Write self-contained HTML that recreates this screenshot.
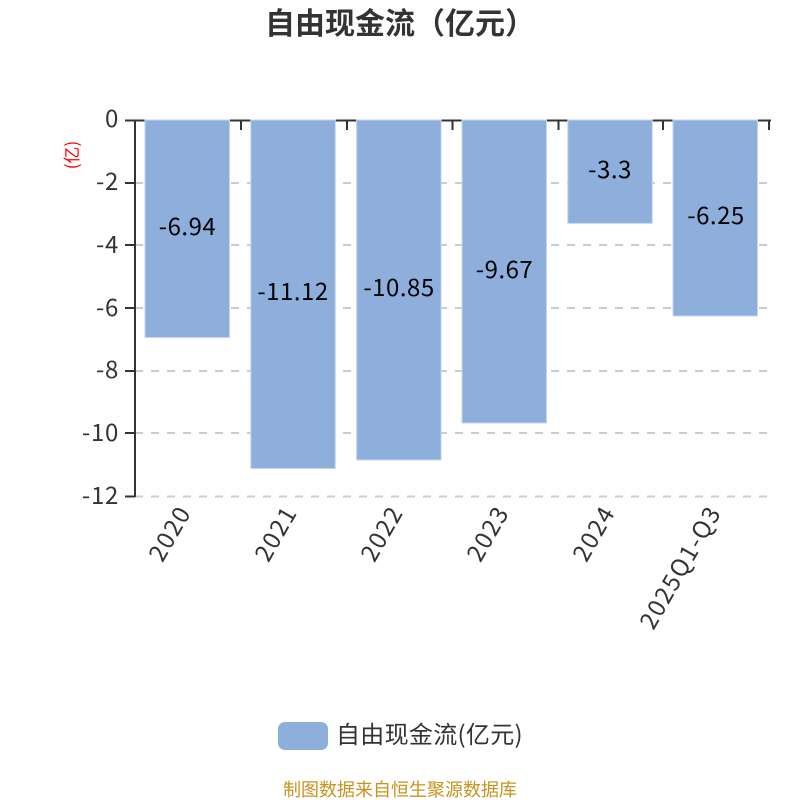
<!DOCTYPE html>
<html><head><meta charset="utf-8"><style>
html,body{margin:0;padding:0;background:#fff;width:800px;height:800px;overflow:hidden}
svg{display:block}
text{font-family:"Noto Sans CJK SC","Liberation Sans",sans-serif}
</style></head><body>
<svg width="800" height="800" viewBox="0 0 800 800" xmlns="http://www.w3.org/2000/svg">
<rect width="800" height="800" fill="#fff"/>
<text x="400" y="34" text-anchor="middle" font-size="30" font-weight="700" fill="#333">自由现金流（亿元）</text>
<g stroke="#ccc" stroke-width="2" stroke-dasharray="8 8">
<line x1="135" y1="183" x2="770" y2="183"/>
<line x1="135" y1="245" x2="770" y2="245"/>
<line x1="135" y1="308" x2="770" y2="308"/>
<line x1="135" y1="371" x2="770" y2="371"/>
<line x1="135" y1="433" x2="770" y2="433"/>
<line x1="135" y1="496.500" x2="770" y2="496.500"/>
</g>
<g stroke="#333" stroke-width="2" fill="none">
<line x1="125" y1="120.500" x2="771" y2="120.500"/>
<line x1="135" y1="120" x2="135" y2="497"/>
<line x1="241" y1="120" x2="241" y2="130"/>
<line x1="347" y1="120" x2="347" y2="130"/>
<line x1="452.500" y1="120" x2="452.500" y2="130"/>
<line x1="558.500" y1="120" x2="558.500" y2="130"/>
<line x1="663" y1="120" x2="663" y2="130"/>
<line x1="769" y1="120" x2="769" y2="130"/>
<line x1="125" y1="183" x2="135" y2="183"/>
<line x1="125" y1="245" x2="135" y2="245"/>
<line x1="125" y1="308" x2="135" y2="308"/>
<line x1="125" y1="371" x2="135" y2="371"/>
<line x1="125" y1="433" x2="135" y2="433"/>
<line x1="125" y1="496.500" x2="135" y2="496.500"/>
</g>
<g fill="#8eaedb" stroke="#c6d6ee" stroke-width="1">
<rect x="145" y="120" width="84.500" height="217.500"/>
<rect x="250.800" y="120" width="84.500" height="348.500"/>
<rect x="356.600" y="120" width="84.500" height="340"/>
<rect x="462" y="120" width="84.500" height="303"/>
<rect x="567.800" y="120" width="84.500" height="103.400"/>
<rect x="673" y="120" width="84.500" height="196"/>
</g>
<g font-size="24" fill="#333" text-anchor="end" letter-spacing="0.7">
<text x="119" y="127">0</text>
<text x="119" y="190">-2</text>
<text x="119" y="253">-4</text>
<text x="119" y="316">-6</text>
<text x="119" y="378">-8</text>
<text x="119" y="441">-10</text>
<text x="119" y="504">-12</text>
</g>
<text transform="translate(78,155) rotate(-90)" text-anchor="middle" font-size="17" fill="#f00">(亿)</text>
<g font-size="24" fill="#000" text-anchor="middle" letter-spacing="0.5">
<text x="187.500" y="235">-6.94</text>
<text x="293" y="300">-11.12</text>
<text x="399" y="296">-10.85</text>
<text x="504.500" y="278">-9.67</text>
<text x="610" y="178">-3.3</text>
<text x="716" y="224">-6.25</text>
</g>
<g font-size="24" fill="#333" text-anchor="end" letter-spacing="1.5">
<text transform="translate(192,512) rotate(-60)">2020</text>
<text transform="translate(298,512) rotate(-60)">2021</text>
<text transform="translate(404,512) rotate(-60)">2022</text>
<text transform="translate(510,512) rotate(-60)">2023</text>
<text transform="translate(616,512) rotate(-60)">2024</text>
<text transform="translate(722,512) rotate(-60)">2025Q1-Q3</text>
</g>
<rect x="278" y="722" width="50" height="28" rx="7" fill="#8eaedb"/>
<text x="336" y="743" font-size="24" letter-spacing="0.3" fill="#333">自由现金流(亿元)</text>
<text x="400" y="796" text-anchor="middle" font-size="18" fill="#c8921f">制图数据来自恒生聚源数据库</text>
</svg>
</body></html>
